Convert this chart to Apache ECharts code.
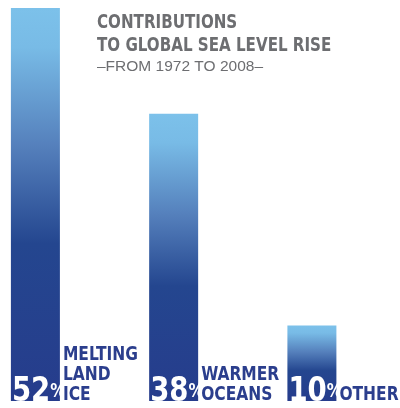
<!DOCTYPE html>
<html><head><meta charset="utf-8">
<script src="https://cdn.jsdelivr.net/npm/echarts@6/dist/echarts.min.js"></script>
<style>html,body{margin:0;padding:0;background:#fff}#c{width:400px;height:408px}</style>
</head><body><div id="c"></div>
<script>
const categories = ["MELTING\nLAND\nICE", "WARMER\nOCEANS", "OTHER"];
const values = [52, 38, 10];
const titleLines = ["CONTRIBUTIONS", "TO GLOBAL SEA LEVEL RISE"];
const subtitle = "\u2013FROM 1972 TO 2008\u2013";

const cond = '"DejaVu Sans Condensed", "DejaVu Sans", sans-serif';
const blueText = '#2B3E8D';
const grey = '#6D6E71';
const BAR_W = 49;
const grad = new echarts.graphic.LinearGradient(0, 0, 0, 1, [
  {offset: 0, color: '#7CC1EA'},
  {offset: 0.1, color: '#78BBE6'},
  {offset: 0.35, color: '#5580BC'},
  {offset: 0.6, color: '#24468F'},
  {offset: 1, color: '#263C8C'}
]);

const chart = echarts.init(document.getElementById('c'), null, {renderer: 'canvas'});
chart.setOption({
  animation: false,
  graphic: [
    {type: 'text', x: 97, y: 11, scaleX: 0.84, z: 10,
     style: {text: titleLines.join('\n'), fontFamily: cond, fontWeight: 'bold', fontSize: 20, lineHeight: 23, fill: grey, verticalAlign: 'top', align: 'left'}},
    {type: 'text', x: 97, y: 59, scaleX: 1.0, z: 10,
     style: {text: subtitle, fontFamily: '"Liberation Sans", Arial, sans-serif', fontSize: 15.5, fill: grey, verticalAlign: 'top', align: 'left'}}
  ],
  grid: {left: 35.4, right: 88.1, top: 8, bottom: 7},
  xAxis: {type: 'category', data: categories, boundaryGap: false, show: false},
  yAxis: {type: 'value', min: 0, max: 52, show: false},
  series: [
    {
      type: 'bar', data: values, barWidth: BAR_W,
      itemStyle: {color: grad}
    },
    {
      type: 'custom', z: 5, clip: false,
      data: values.map((v, i) => [i, v]),
      renderItem: (params, api) => {
        const i = params.dataIndex;
        const base = api.coord([api.value(0), 0]);
        const half = BAR_W / 2;
        return {type: 'group', children: [
          {type: 'text', x: base[0] - half + 1, y: base[1] + 6, scaleX: 0.9,
           style: {
             text: '{a|' + values[i] + '}{b|%}', align: 'left', verticalAlign: 'bottom',
             rich: {
               a: {fontFamily: cond, fontWeight: 'bold', fontSize: 34, fill: '#fff', lineHeight: 30},
               b: {fontFamily: cond, fontWeight: 'bold', fontSize: 19, fill: '#fff', lineHeight: 30}
             }
           }},
          {type: 'text', x: base[0] + half + 3, y: base[1] + 4, scaleX: 0.86,
           style: {text: categories[i], fontFamily: cond, fontWeight: 'bold', fontSize: 20, lineHeight: 20,
                   fill: blueText, align: 'left', verticalAlign: 'bottom'}}
        ]};
      }
    }
  ]
});
</script></body></html>
